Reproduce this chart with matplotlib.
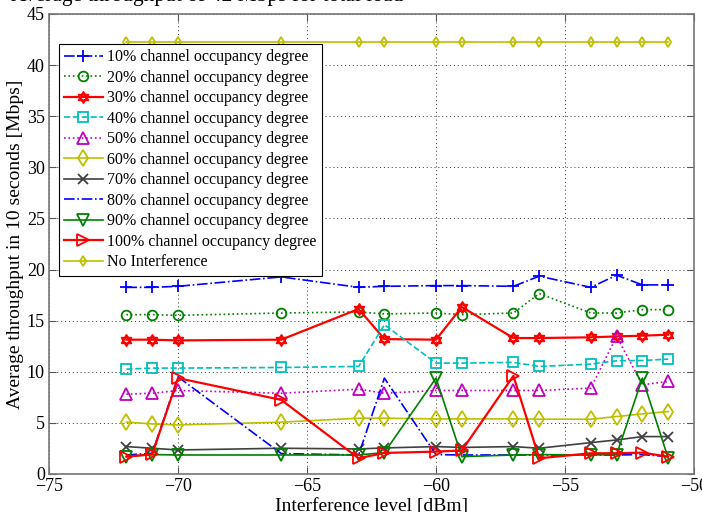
import matplotlib
matplotlib.use("Agg")
import matplotlib.pyplot as plt
from matplotlib.path import Path

# interference levels [dBm]
levels = [-72, -71, -70, -66, -63, -62, -60, -59, -57, -56, -54, -53, -52, -51]

occ10 = [18.26, 18.26, 18.36, 19.28, 18.26, 18.36, 18.43, 18.43, 18.36, 19.35, 18.26, 19.45, 18.5, 18.5]
occ20 = [15.59, 15.59, 15.52, 15.75, 15.85, 15.66, 15.75, 15.59, 15.75, 17.65, 15.75, 15.75, 16.08, 16.08]
occ30 = [13.14, 13.14, 13.07, 13.14, 16.14, 13.2, 13.14, 16.34, 13.3, 13.3, 13.37, 13.46, 13.53, 13.63]
occ40 = [10.26, 10.36, 10.36, 10.42, 10.52, 14.6, 10.85, 10.85, 10.92, 10.52, 10.75, 11.08, 11.1, 11.24]
occ50 = [7.81, 7.9, 8.17, 7.9, 8.3, 7.9, 8.17, 8.17, 8.17, 8.17, 8.4, 13.46, 8.73, 9.05]
occ60 = [5.07, 4.9, 4.8, 5.07, 5.46, 5.46, 5.39, 5.39, 5.39, 5.36, 5.36, 5.62, 5.88, 6.11]
occ70 = [2.68, 2.52, 2.35, 2.52, 2.45, 2.55, 2.68, 2.6, 2.68, 2.52, 3.07, 3.33, 3.66, 3.66]
occ80 = [1.86, 2.03, 9.5, 2.0, 1.86, 9.38, 1.9, 1.86, 1.86, 1.86, 1.86, 1.86, 1.9, 1.7]
occ90 = [1.7, 1.9, 1.86, 1.86, 1.86, 2.1, 9.38, 1.7, 1.86, 1.9, 1.86, 1.9, 9.38, 1.54]
occ100 = [1.7, 1.93, 9.38, 7.25, 1.54, 2.06, 2.19, 2.3, 9.6, 1.54, 2.03, 2.03, 2.09, 1.7]
no_interf = [42.3] * 14

labels = [f"{p}% channel occupancy degree" for p in range(10, 101, 10)] + ["No Interference"]

# hexagram marker (two overlapping triangles), like matlab 'h'
tri_up = [(0, 1), (-0.866, -0.5), (0.866, -0.5), (0, 1)]
tri_dn = [(0, -1), (0.866, 0.5), (-0.866, 0.5), (0, -1)]
hexagram = Path(tri_up + tri_dn,
                [Path.MOVETO, Path.LINETO, Path.LINETO, Path.CLOSEPOLY] * 2)

blue, green, red = (0, 0, 1), (0, 0.5, 0), (1, 0, 0)
cyan, mag, yel, gray = (0, 0.75, 0.75), (0.75, 0, 0.75), (0.75, 0.75, 0), (0.25, 0.25, 0.25)

series = [
    (occ10, blue, "-.", "+", 9),
    (occ20, green, ":", "o", 7),
    (occ30, red, "-", hexagram, 8),
    (occ40, cyan, "--", "s", 7),
    (occ50, mag, ":", "^", 8),
    (occ60, yel, "-", "d", 8),
    (occ70, gray, "-", "x", 7),
    (occ80, blue, "-.", None, 6),
    (occ90, green, "-", "v", 8),
    (occ100, red, "-", ">", 9),
    (no_interf, yel, "-", "d", 5),
]

plt.rcParams["font.family"] = ["Liberation Serif", "DejaVu Serif"]

fig = plt.figure(figsize=(7.02, 5.12), dpi=100)
ax = fig.add_axes([49 / 702, 38 / 512, 645 / 702, 460 / 512])

for (vals, col, ls, mk, ms), lab in zip(series, labels):
    lw = 1.6 if col == red else 1.2
    ax.plot(levels, vals, color=col, linestyle=ls, marker=mk, markersize=ms,
            markerfacecolor="none", markeredgewidth=1.3, linewidth=lw, label=lab)

ax.set_xlim(-75, -50)
ax.set_ylim(0, 45)
ax.set_xticks(range(-75, -49, 5))
ax.set_yticks(range(0, 46, 5))
ax.grid(True, linestyle=(0, (1, 3)), color="#333333", linewidth=0.7)
ax.tick_params(direction="in", top=True, right=True, labelsize=13, length=5,
               color="#555555", pad=3)
for sp in ax.spines.values():
    sp.set_color("#777777")
    sp.set_linewidth(1.2)

ax.set_xlabel("Interference level [dBm]", fontsize=14, labelpad=2)
ax.set_ylabel("Average throughput in 10 seconds [Mbps]", fontsize=14, labelpad=2)

leg = ax.legend(loc="upper left", bbox_to_anchor=(0.015, 0.935), fontsize=11.5,
                handlelength=2.4, handletextpad=0.3, labelspacing=0.28,
                borderpad=0.35, fancybox=False, framealpha=1, edgecolor="black",
                borderaxespad=0)
leg.get_frame().set_linewidth(0.8)

# caption line cut off at the top edge
fig.text(0.015, 1 - 1 / 512, "Average throughput of 42 Mbps for total load",
         fontsize=15.5, va="baseline")

fig.savefig("out.png", dpi=100)
